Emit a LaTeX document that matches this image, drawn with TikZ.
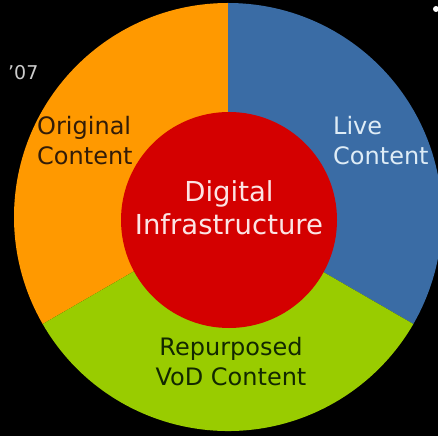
\documentclass[tikz,border=0pt]{standalone}
\usepackage{fontspec}
\setmainfont{DejaVu Sans}

\definecolor{origorange}{RGB}{255,153,0}
\definecolor{liveblue}{RGB}{58,108,165}
\definecolor{vodgreen}{RGB}{153,204,0}
\definecolor{infrared}{RGB}{212,0,0}
\definecolor{darkbrown}{RGB}{50,28,8}
\definecolor{darkgreen}{RGB}{18,40,0}
\definecolor{paleblue}{RGB}{222,236,246}
\definecolor{palepink}{RGB}{252,228,228}

\begin{document}
\begin{tikzpicture}[x=1pt,y=1pt,
	segtext/.style={inner sep=0pt, font=\fontsize{24}{30}\selectfont},
	hubtext/.style={inner sep=0pt, align=center, font=\fontsize{27.5}{33}\selectfont}]
	\fill[black] (0,0) rectangle (438,436);
	\useasboundingbox (0,0) rectangle (438,436);

	% outer ring, three equal segments
	\coordinate (ctr) at (228,219);
	\fill[origorange] (ctr) -- ++(90:214) arc[start angle=90, end angle=210, radius=214] -- cycle;
	\fill[liveblue] (ctr) -- ++(90:214) arc[start angle=90, end angle=-30, radius=214] -- cycle;
	\fill[vodgreen] (ctr) -- ++(210:214) arc[start angle=210, end angle=330, radius=214] -- cycle;

	% hub
	\fill[infrared] (229,216) circle[radius=108];

	% base anchor sits on the last line
	\node [hubtext, palepink, anchor=base] (hub) at (229,201) {Digital \\ Infrastructure};
	\node [segtext, align=left, darkbrown, anchor=base west] (orig) at (37,271) {Original \\ Content};
	\node [segtext, align=left, paleblue, anchor=base west] (live) at (333,271) {Live \\ Content};
	\node [segtext, align=center, darkgreen, anchor=base] (vod) at (231,51) {Repurposed \\ VoD Content};

	\node [inner sep=0pt, anchor=base west, gray!40, font=\fontsize{19}{22}\selectfont] (year) at (8,356) {’07};
	\fill[white] (436,427) circle[radius=3];
\end{tikzpicture}
\end{document}
